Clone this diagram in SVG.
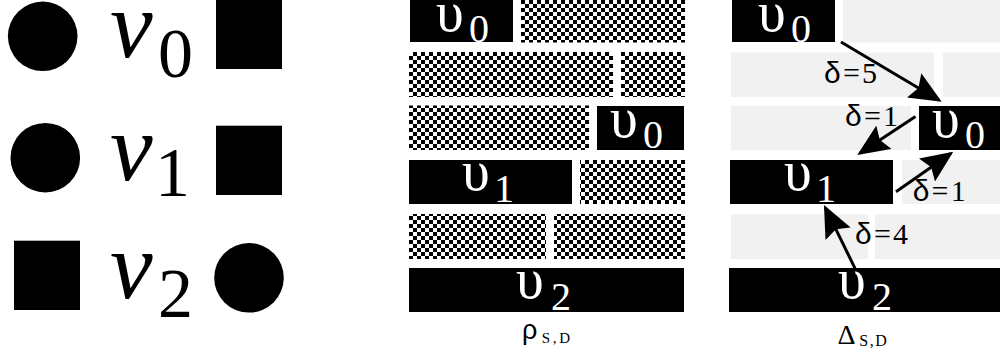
<svg xmlns="http://www.w3.org/2000/svg" width="1000" height="362" viewBox="0 0 1000 362">
<defs>
<pattern id="chk" patternUnits="userSpaceOnUse" width="8" height="8" x="1" y="0">
<rect width="8" height="8" fill="#fff"/>
<rect width="4" height="4" fill="#000"/>
<rect x="4" y="4" width="4" height="4" fill="#000"/>
</pattern>
<marker id="ah" markerUnits="userSpaceOnUse" markerWidth="32" markerHeight="28" viewBox="0 0 32 28" refX="29" refY="14" orient="auto">
<path d="M0,0 L32,14 L0,28 L5,14 z" fill="#000"/>
</marker>
<style>
.blk{fill:#000}
.chk{fill:url(#chk)}
.gry{fill:#f1f1f1}
.shape{fill:#000}
.conn{stroke:#000;stroke-width:3;fill:none;marker-end:url(#ah)}
</style>
</defs>
<rect width="1000" height="362" fill="#fff"/>

<!-- left legend -->
<g id="legend-v0">
<circle class="shape" cx="42.7" cy="36.3" r="34.8"/>
<text font-family="Liberation Serif" font-style="italic" font-size="96" fill="#000" x="110" y="57">v</text>
<text font-family="Liberation Serif" font-size="70" fill="#000" x="158" y="77">0</text>
<rect class="shape" x="216" y="0" width="66" height="69"/>
</g>
<g id="legend-v1">
<circle class="shape" cx="45.3" cy="157.7" r="34.8"/>
<text font-family="Liberation Serif" font-style="italic" font-size="96" fill="#000" x="110" y="180">v</text>
<text font-family="Liberation Serif" font-size="70" fill="#000" x="155" y="196">1</text>
<rect class="shape" x="216" y="125.7" width="66" height="69.3"/>
</g>
<g id="legend-v2">
<rect class="shape" x="14" y="240.7" width="66" height="69.3"/>
<text font-family="Liberation Serif" font-style="italic" font-size="96" fill="#000" x="110" y="298">v</text>
<text font-family="Liberation Serif" font-size="70" fill="#000" x="158" y="316.5">2</text>
<circle class="shape" cx="249" cy="277.8" r="34.8"/>
</g>

<!-- middle grid: rho -->
<g id="rho">
<g id="rho-r0a"><rect class="blk" x="410" y="0" width="103" height="42"/>
<text font-family="Liberation Serif" font-size="56" fill="#fff" x="436" y="30.5">υ</text>
<text font-family="Liberation Serif" font-size="40" fill="#fff" x="469" y="42">0</text></g>
<g id="rho-r0b"><rect class="chk" x="521" y="0" width="164" height="42.5"/></g>
<g id="rho-r1a"><rect class="chk" x="409" y="52" width="204" height="45"/></g>
<g id="rho-r1b"><rect class="chk" x="621" y="52" width="64" height="45"/></g>
<g id="rho-r2a"><rect class="chk" x="409" y="105.5" width="180" height="44.5"/></g>
<g id="rho-r2b"><rect class="blk" x="597" y="106" width="87" height="44"/>
<text font-family="Liberation Serif" font-size="56" fill="#fff" x="610" y="136.5">υ</text>
<text font-family="Liberation Serif" font-size="40" fill="#fff" x="643" y="148.3">0</text></g>
<g id="rho-r3a"><rect class="blk" x="409" y="160" width="163" height="44"/>
<text font-family="Liberation Serif" font-size="56" fill="#fff" x="462" y="190">υ</text>
<text font-family="Liberation Serif" font-size="40" fill="#fff" x="494" y="201.7">1</text></g>
<g id="rho-r3b"><rect class="chk" x="580" y="160" width="105" height="44"/></g>
<g id="rho-r4a"><rect class="chk" x="409" y="214" width="137" height="45"/></g>
<g id="rho-r4b"><rect class="chk" x="554" y="214" width="131" height="45"/></g>
<g id="rho-r5"><rect class="blk" x="409" y="268" width="275" height="44"/>
<text font-family="Liberation Serif" font-size="56" fill="#fff" x="516" y="298">υ</text>
<text font-family="Liberation Serif" font-size="40" fill="#fff" x="551" y="310">2</text></g>
<text font-family="Liberation Sans" font-size="27" fill="#000" x="522" y="339">ρ</text>
<text font-family="Liberation Serif" font-size="15" fill="#000" x="541.7" y="343.3" textLength="28.3" lengthAdjust="spacing">S,D</text>
</g>

<!-- right grid: delta -->
<g id="delta">
<g id="dl-r0a"><rect class="blk" x="732" y="0" width="103" height="42"/>
<text font-family="Liberation Serif" font-size="56" fill="#fff" x="758" y="30.5">υ</text>
<text font-family="Liberation Serif" font-size="40" fill="#fff" x="791" y="42">0</text></g>
<g id="dl-r0b"><rect class="gry" x="843" y="0" width="164" height="42.5"/></g>
<g id="dl-r1a"><rect class="gry" x="731" y="52.5" width="203" height="44.5"/></g>
<g id="dl-r1b"><rect class="gry" x="943" y="52.5" width="64" height="44.5"/></g>
<g id="dl-r2a"><rect class="gry" x="731" y="106" width="180" height="44"/></g>
<g id="dl-r2b"><rect class="blk" x="919" y="106" width="87" height="44"/>
<text font-family="Liberation Serif" font-size="56" fill="#fff" x="932" y="136.5">υ</text>
<text font-family="Liberation Serif" font-size="40" fill="#fff" x="965" y="148.3">0</text></g>
<g id="dl-r3a"><rect class="blk" x="730" y="160" width="163" height="44"/>
<text font-family="Liberation Serif" font-size="56" fill="#fff" x="784" y="190">υ</text>
<text font-family="Liberation Serif" font-size="40" fill="#fff" x="816" y="201.7">1</text></g>
<g id="dl-r3b"><rect class="gry" x="902" y="160" width="105" height="44"/></g>
<g id="dl-r4a"><rect class="gry" x="731" y="214.5" width="137" height="44.5"/></g>
<g id="dl-r4b"><rect class="gry" x="875" y="214.5" width="132" height="44.5"/></g>
<g id="dl-r5"><rect class="blk" x="729" y="268" width="277" height="44"/>
<text font-family="Liberation Serif" font-size="56" fill="#fff" x="838" y="298">υ</text>
<text font-family="Liberation Serif" font-size="40" fill="#fff" x="872" y="310">2</text></g>
<text font-family="Liberation Serif" font-size="28" fill="#000" x="837.5" y="343.5">Δ</text>
<text font-family="Liberation Serif" font-size="16" fill="#000" x="859.3" y="345.5" textLength="27.4" lengthAdjust="spacing">S,D</text>
</g>

<!-- connectors -->
<g id="connectors">
<line class="conn" x1="841" y1="42" x2="939.1" y2="100.2"/>
<line class="conn" x1="915.5" y1="116.5" x2="859.8" y2="153.3"/>
<line class="conn" x1="896" y1="191.7" x2="950.8" y2="153.4"/>
<line class="conn" x1="855" y1="268.3" x2="825.3" y2="207.7"/>
<text font-family="Liberation Serif" font-size="30" fill="#000" x="824" y="83.3" textLength="53" lengthAdjust="spacing"><tspan font-family="Liberation Sans">δ</tspan>=5</text>
<text font-family="Liberation Serif" font-size="30" fill="#000" x="845" y="126" textLength="53" lengthAdjust="spacing"><tspan font-family="Liberation Sans">δ</tspan>=1</text>
<text font-family="Liberation Serif" font-size="30" fill="#000" x="912.7" y="201" textLength="53" lengthAdjust="spacing"><tspan font-family="Liberation Sans">δ</tspan>=1</text>
<text font-family="Liberation Serif" font-size="30" fill="#000" x="855" y="243.5" textLength="53" lengthAdjust="spacing"><tspan font-family="Liberation Sans">δ</tspan>=4</text>
</g>
</svg>
